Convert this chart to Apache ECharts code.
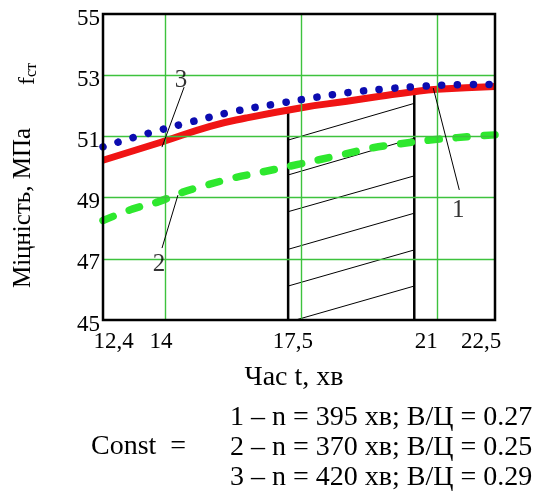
<!DOCTYPE html>
<html><head><meta charset="utf-8">
<script src="https://cdn.jsdelivr.net/npm/echarts@6/dist/echarts.min.js"></script>
<style>html,body{margin:0;padding:0;background:#fff}#c{width:548px;height:494px}</style>
</head><body><div id="c"></div>
<script>
// ---- data ----
const timeRed = [12.4, 13.87, 15.16, 16.08, 17.48, 18.68, 19.54, 20.39, 21.01, 22.5];
const strengthRed = [50.22, 50.80, 51.33, 51.60, 51.93, 52.15, 52.31, 52.46, 52.54, 52.63];
const timeBlue = [12.4, 13.56, 14.69, 15.83, 17.04, 17.89, 18.71, 19.56, 20.42, 21.29, 22.5];
const strengthBlue = [50.66, 51.10, 51.48, 51.83, 52.10, 52.28, 52.43, 52.54, 52.62, 52.68, 52.70];
const timeGreen = [12.4, 13.17, 13.82, 14.44, 15.08, 15.75, 16.52, 17.48, 18.51, 19.28, 20.0, 20.83, 21.52, 22.5];
const strengthGreen = [48.25, 48.63, 48.86, 49.17, 49.41, 49.64, 49.84, 50.10, 50.39, 50.61, 50.75, 50.88, 50.96, 51.05];
const yTicks = [45, 47, 49, 51, 53, 55];
const yGridValues = [47, 49, 51, 53];
const xTickLabels = [12.4, 14, 17.5, 21, 22.5];
const xGridValues = [14, 17.5, 21];
const regionBounds = [17.17, 20.42];
const regionTops = [51.9, 52.5];
const hatchStartY = [50.88, 49.74, 48.54, 47.31, 46.11, 44.93];
const hatchEndY = [52.08, 50.94, 49.71, 48.49, 47.29, 46.11];
const annoText = ['3', '2', '1'];
const annoLabelPos = [[14.41, 52.84], [13.84, 46.83], [21.55, 48.59]];
const annoLineFrom = [[14.49, 52.61], [13.92, 47.35], [21.58, 49.25]];
const annoLineTo = [[13.92, 50.65], [14.33, 49.08], [20.91, 52.58]];
const legendLines = ['1 – n = 395 хв; В/Ц = 0.27', '2 – n = 370 хв; В/Ц = 0.25', '3 – n = 420 хв; В/Ц = 0.29'];

const FONT = '"Liberation Serif", "Times New Roman", serif';
const zip = (xs, ys) => xs.map((x, i) => [x, ys[i]]);

const labelKeys = ['a', 'b', 'c', 'd', 'e'];
const labelPads = [[0, 0, 0, 21], [0, 8, 0, 0], [0, 16, 0, 0], [0, 21, 0, 0], [0, 28, 0, 0]];
const rich = {};
labelKeys.forEach((k, i) => { rich[k] = { fontSize: 23, fontFamily: FONT, color: '#000', padding: labelPads[i] }; });

const series = [];
// grid lines (Mathcad-style markers)
series.push({ type: 'line', data: [[12.4, 45]], showSymbol: false, silent: true, lineStyle: { width: 0 }, z: 1,
  markLine: { silent: true, symbol: 'none', animation: false, label: { show: false },
    lineStyle: { color: '#3dc23d', width: 1.4, type: 'solid', opacity: 1 }, emphasis: { disabled: true },
    data: yGridValues.map(v => ({ yAxis: v })).concat(xGridValues.map(v => ({ xAxis: v }))) } });
// hatch lines
hatchStartY.forEach((y0, i) => {
  series.push({ type: 'line', data: [[regionBounds[0], y0], [regionBounds[1], hatchEndY[i]]],
    showSymbol: false, silent: true, lineStyle: { color: '#000', width: 1 }, z: 2 });
});
// region boundary lines
regionBounds.forEach((x, i) => {
  series.push({ type: 'line', data: [[x, 45], [x, regionTops[i]]], showSymbol: false, silent: true,
    lineStyle: { color: '#000', width: 2.5 }, z: 2 });
});
series.push({ name: '2', type: 'line', data: zip(timeGreen, strengthGreen), smooth: 0.4, showSymbol: false,
  lineStyle: { color: '#2ee82e', width: 7.5, type: [11, 17], cap: 'round' }, z: 3 });
series.push({ name: '1', type: 'line', data: zip(timeRed, strengthRed), smooth: 0.5, showSymbol: false,
  lineStyle: { color: '#f01414', width: 7 }, z: 4 });
series.push({ name: '3', type: 'line', data: zip(timeBlue, strengthBlue), smooth: 0.4, showSymbol: false,
  lineStyle: { color: '#0c0cb0', width: 7.5, type: [0.1, 15.6], cap: 'round' }, z: 5 });
// annotations
annoText.forEach((t, i) => {
  series.push({ type: 'line', data: [annoLineFrom[i], annoLineTo[i]], showSymbol: false, silent: true,
    lineStyle: { color: '#000', width: 1 }, z: 6 });
  series.push({ type: 'scatter', data: [annoLabelPos[i]], symbolSize: 1, silent: true,
    itemStyle: { color: 'rgba(0,0,0,0)' }, z: 6,
    label: { show: true, position: 'inside', formatter: t, fontSize: 25, fontFamily: FONT, color: '#000' } });
});

const chart = echarts.init(document.getElementById('c'), null, { renderer: 'canvas' });
chart.setOption({
  animation: false,
  backgroundColor: '#fff',
  grid: { left: 103, right: 53, top: 14, bottom: 174, show: true, borderColor: '#000', borderWidth: 2.5, backgroundColor: 'transparent', z: 10 },
  xAxis: {
    type: 'value', min: 12.4, max: 22.5,
    axisLine: { show: false },
    axisTick: { show: false },
    splitLine: { show: false },
    axisLabel: { customValues: xTickLabels, margin: 10, fontSize: 23, fontFamily: FONT, color: '#000',
      formatter: v => { const i = xTickLabels.findIndex(t => Math.abs(t - v) < 1e-6); return '{' + labelKeys[Math.max(i, 0)] + '|' + String(v).replace('.', ',') + '}'; },
      rich: rich }
  },
  yAxis: {
    type: 'value', min: 45, max: 55,
    axisLine: { show: false },
    axisTick: { show: false },
    splitLine: { show: false },
    axisLabel: { customValues: yTicks, margin: 3, fontSize: 23, fontFamily: FONT, color: '#000',
      formatter: v => '{v|' + v + '}',
      rich: { v: { fontSize: 23, fontFamily: FONT, color: '#000', padding: [9, 0, 0, 0] } } }
  },
  series: series,
  graphic: [
    { type: 'text', x: 23, y: 208, rotation: Math.PI / 2, style: { text: 'Міцність, МПа', fontSize: 25, fontFamily: FONT, fill: '#000', align: 'center', verticalAlign: 'middle' } },
    { type: 'text', x: 27.5, y: 74, rotation: Math.PI / 2, style: { text: '{f|f}{s|ст}', align: 'center', verticalAlign: 'middle', fill: '#000',
      rich: { f: { fontSize: 24, fontFamily: FONT, fill: '#000' }, s: { fontSize: 16, fontFamily: FONT, fill: '#000', verticalAlign: 'bottom' } } } },
    { type: 'text', x: 294, y: 378, style: { text: 'Час t, хв', fontSize: 28, fontFamily: FONT, fill: '#000', align: 'center', verticalAlign: 'middle' } },
    { type: 'text', x: 91, y: 447, style: { text: 'Const  =', fontSize: 28, fontFamily: FONT, fill: '#000', align: 'left', verticalAlign: 'middle' } },
    ...legendLines.map((t, i) => ({ type: 'text', x: 230, y: 418 + i * 30, style: { text: t, fontSize: 28, fontFamily: FONT, fill: '#000', align: 'left', verticalAlign: 'middle' } }))
  ]
});
</script></body></html>
